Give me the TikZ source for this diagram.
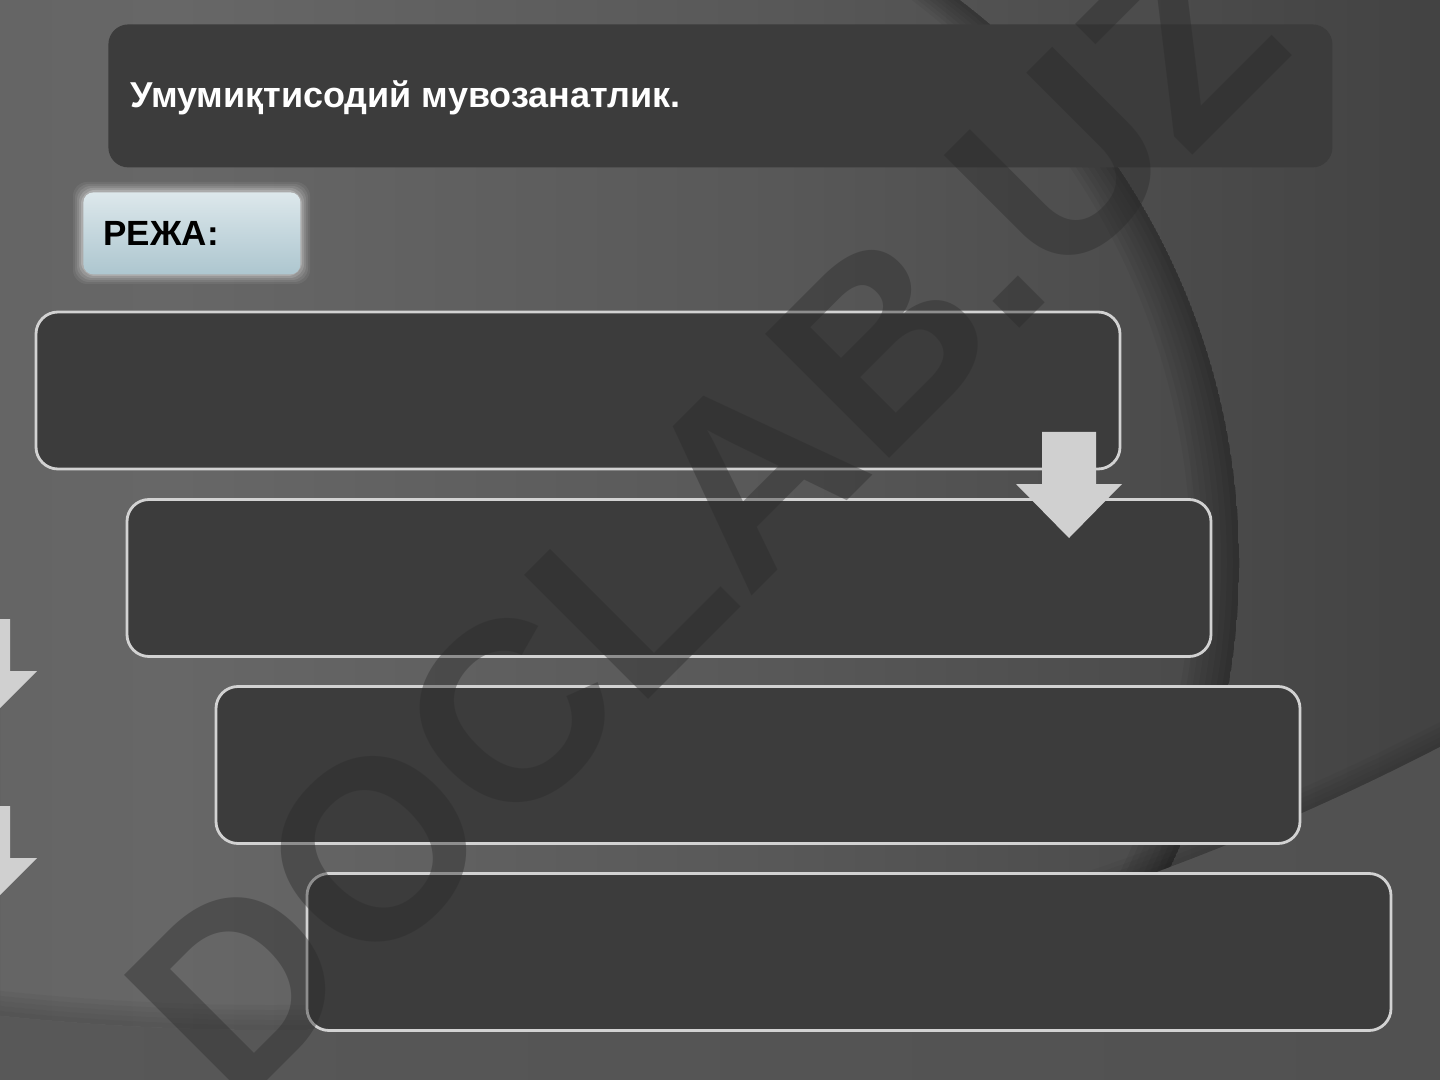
\documentclass[tikz,border=0pt]{standalone}
\usepackage{fontspec}
\setmainfont{Liberation Sans}
\usetikzlibrary{calc}
\definecolor{bg0}{HTML}{5C5C5C}
\definecolor{bg1}{HTML}{676767}
\definecolor{bg2}{HTML}{585858}
\definecolor{bg3}{HTML}{484848}
\definecolor{bg4}{HTML}{3E3E3E}
\definecolor{bg5}{HTML}{414141}
\definecolor{lowL}{HTML}{5C5C5C}
\definecolor{lowR}{HTML}{4D4D4D}
\definecolor{boxfill}{HTML}{3C3C3C}
\definecolor{boxline}{HTML}{D2D2D2}
\definecolor{arrowfill}{HTML}{D0D0D0}
\definecolor{wmcol}{HTML}{2A2A2A}
\definecolor{rejaT}{HTML}{F6F9FA}
\definecolor{rejaL}{HTML}{C9DAE0}
\definecolor{rejaM}{HTML}{A3BFC9}
\definecolor{rejaB}{HTML}{C4D5DB}
\pgfdeclarehorizontalshading{bgh}{100bp}{color(0bp)=(bg0); color(31bp)=(bg1); color(52bp)=(bg2); color(69bp)=(bg3); color(80bp)=(bg4); color(100bp)=(bg5)}
\pgfdeclarehorizontalshading{lowsh}{100bp}{color(0bp)=(lowL); color(40bp)=(lowL!60!lowR); color(100bp)=(lowR)}
\pgfdeclareverticalshading{rejash}{100bp}{color(0bp)=(rejaB); color(14bp)=(rejaM); color(55bp)=(rejaL); color(100bp)=(rejaT)}
\tikzset{
  stepbox/.style={draw=boxline, line width=1.4pt, fill=boxfill, rounded corners=11pt,
    minimum width=542pt, minimum height=78.5pt, inner sep=0pt},
  titlebox/.style={fill=boxfill, rounded corners=10pt, inner sep=0pt,
    minimum width=612pt, minimum height=71.5pt},
  rejabox/.style={shading=rejash, rounded corners=5pt, inner sep=0pt,
    minimum width=108.5pt, minimum height=41pt},
  blockarrow/.style={fill=arrowfill, draw=none},
  titletext/.style={text=white, font=\fontsize{18}{22}\selectfont\bfseries, inner sep=0pt},
  rejatext/.style={text=black, font=\fontsize{17.5}{21}\selectfont\bfseries, inner sep=0pt},
  watermark/.style={text=wmcol, text opacity=0.4, font=\fontsize{127.5}{127.5}\selectfont\bfseries, inner sep=0pt}
}
\begin{document}
\begin{tikzpicture}[x=0.5pt,y=-0.5pt]
\useasboundingbox (0,0) rectangle (1440,1080);
\clip (0,0) rectangle (1440,1080);
% background
\shade[shading=bgh] (0,0) rectangle (1440,1080);
% shadow inside the large circle, on its right edge
\begin{scope}
  \clip (700,0) rectangle (1440,1080);
  \clip (532,563) circle (707);
  \foreach \d in {6,12,...,48}
    \fill[black, opacity=0.045, even odd rule] (532,563) circle (707) (532-\d,563) circle (707);
\end{scope}
% shadow above the lower band
\begin{scope}
  \clip (271,-1521) circle (2551);
  \foreach \d in {5,10,...,25}
    \fill[black, opacity=0.03, even odd rule] (271,-1521) circle (2551) (271,-1521-\d) circle (2551);
\end{scope}
% lower band
\begin{scope}[even odd rule]
  \clip (0,0) rectangle (1440,1080) (271,-1521) circle (2551);
  \shade[shading=lowsh] (0,700) rectangle (1440,1080);
\end{scope}
% title
\node[titlebox, anchor=north west] (title) at (108,24) {};
\node[titletext, anchor=base west] (titletxt) at (130,108) {Умумиқтисодий мувозанатлик.};
% reja box with glow
\foreach \g/\o in {10/0.06, 8/0.08, 6/0.10, 4/0.14, 2/0.2}
  \fill[white, opacity=\o, rounded corners=7pt] (83-\g,192-\g) rectangle (300+\g,274+\g);
\node[rejabox, anchor=north west] (reja) at (83,192) {};
\node[rejatext, anchor=base west] (rejatxt) at (103,246) {РЕЖА:};
% step boxes
\node[stepbox] (b1) at (578,390.5) {};
\node[stepbox] (b2) at (669,578) {};
\node[stepbox] (b3) at (758,765) {};
\node[stepbox] (b4) at (849,952) {};
% arrows
\fill[blockarrow] (1042,432) -- (1096,432) -- (1096,484) -- (1122,484) -- (1069,538) -- (1016,484) -- (1042,484) -- cycle;
\fill[blockarrow] (-44,619) -- (10,619) -- (10,671) -- (37,671) -- (-17,725) -- (-71,671) -- (-44,671) -- cycle;
\fill[blockarrow] (-44,806) -- (10,806) -- (10,858) -- (37,858) -- (-17,912) -- (-71,858) -- (-44,858) -- cycle;
% watermark
\node[watermark, rotate=45, anchor=base west] (wm) at (236,1112) {DOCLAB.UZ};
\end{tikzpicture}
\end{document}
